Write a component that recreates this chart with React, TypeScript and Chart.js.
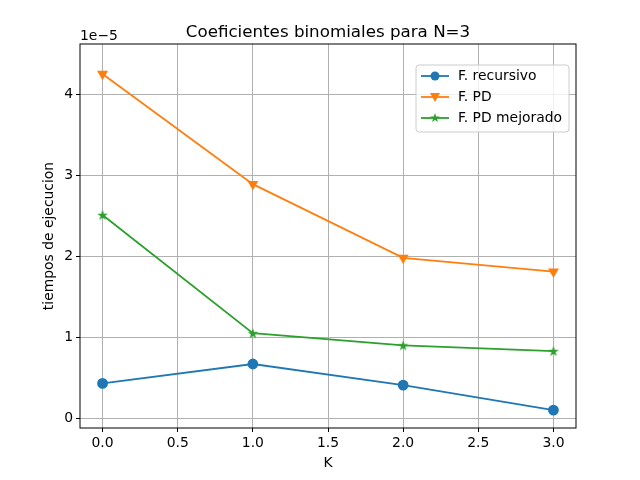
import { useEffect, useRef } from 'react';
import { Chart, registerables } from 'chart.js';

Chart.register(...registerables);

const K = [0, 1, 2, 3];
const recursivo = [0.43, 0.67, 0.41, 0.1];
const pd = [4.25, 2.89, 1.98, 1.81];
const pdMejorado = [2.51, 1.05, 0.9, 0.83];
const names = ['F. recursivo', 'F. PD', 'F. PD mejorado'];
const colors = ['#1f77b4', '#ff7f0e', '#2ca02c'];
const styles: any[] = ['circle', 'triangle', 'star'];

const FONT = '"DejaVu Sans", sans-serif';

const overlay = {
  id: 'overlay',
  afterDraw(chart: any) {
    const { ctx, chartArea: a } = chart;
    ctx.save();
    ctx.fillStyle = '#000';
    ctx.font = `16.7px ${FONT}`;
    ctx.textAlign = 'center';
    ctx.textBaseline = 'alphabetic';
    ctx.fillText('Coeficientes binomiales para N=3', (a.left + a.right) / 2, a.top - 7);
    ctx.font = `13.9px ${FONT}`;
    ctx.fillText('K', (a.left + a.right) / 2, 467);
    ctx.save();
    ctx.translate(53, (a.top + a.bottom) / 2);
    ctx.rotate(-Math.PI / 2);
    ctx.fillText('tiempos de ejecucion', 0, 0);
    ctx.restore();
    ctx.textAlign = 'left';
    ctx.fillText('1e\u22125', a.left, a.top - 4);
    ctx.strokeStyle = '#000';
    ctx.lineWidth = 1;
    ctx.strokeRect(a.left, a.top, a.right - a.left, a.bottom - a.top);
    // legend
    const lx = 416, ly = 65, lw = 153, lh = 67;
    ctx.fillStyle = 'rgba(255,255,255,0.8)';
    ctx.strokeStyle = '#cccccc';
    ctx.beginPath();
    ctx.roundRect(lx, ly, lw, lh, 3);
    ctx.fill();
    ctx.stroke();
    names.forEach((n, i) => {
      const y = 76 + i * 21;
      ctx.strokeStyle = colors[i];
      ctx.lineWidth = 1.8;
      ctx.beginPath();
      ctx.moveTo(421, y);
      ctx.lineTo(449, y);
      ctx.stroke();
      ctx.fillStyle = colors[i];
      if (i === 0) {
        ctx.beginPath();
        ctx.arc(435, y, 4.5, 0, Math.PI * 2);
        ctx.fill();
      } else if (i === 1) {
        ctx.beginPath();
        ctx.moveTo(430, y - 4);
        ctx.lineTo(440, y - 4);
        ctx.lineTo(435, y + 5);
        ctx.closePath();
        ctx.fill();
      } else {
        drawStar(ctx, 435, y, 5);
      }
      ctx.fillStyle = '#000';
      ctx.textBaseline = 'middle';
      ctx.fillText(n, 458, y);
    });
    ctx.restore();
  },
};

function drawStar(ctx: CanvasRenderingContext2D, x: number, y: number, r: number) {
  ctx.beginPath();
  for (let j = 0; j < 10; j++) {
    const rr = j % 2 === 0 ? r : r * 0.4;
    const ang = -Math.PI / 2 + (j * Math.PI) / 5;
    const px = x + rr * Math.cos(ang);
    const py = y + rr * Math.sin(ang);
    if (j === 0) ctx.moveTo(px, py);
    else ctx.lineTo(px, py);
  }
  ctx.closePath();
  ctx.fill();
}

function starImage(color: string) {
  const c = document.createElement('canvas');
  c.width = 12;
  c.height = 12;
  const cx = c.getContext('2d')!;
  cx.fillStyle = color;
  drawStar(cx, 6, 6.5, 5.5);
  return c;
}

export default function App() {
  const canvasRef = useRef<HTMLCanvasElement>(null);

  useEffect(() => {
    if (!canvasRef.current) return;
    const series = [recursivo, pd, pdMejorado];
    const chart = new Chart(canvasRef.current, {
      type: 'line',
      data: {
        datasets: series.map((s, i) => ({
          label: names[i],
          data: K.map((k, j) => ({ x: k, y: s[j] })),
          borderColor: colors[i],
          backgroundColor: colors[i],
          borderWidth: 1.8,
          pointStyle: i === 2 ? (starImage(colors[i]) as any) : styles[i],
          pointRotation: i === 1 ? 180 : 0,
          pointRadius: 4.5,
          tension: 0,
        })),
      },
      options: {
        responsive: false,
        animation: false,
        layout: { padding: { top: 44, right: 64, left: 0, bottom: 0 } },
        plugins: { legend: { display: false }, title: { display: false }, tooltip: { enabled: false } },
        scales: {
          x: {
            type: 'linear',
            min: -0.15,
            max: 3.15,
            afterBuildTicks: (s: any) => { s.ticks = [0, 0.5, 1, 1.5, 2, 2.5, 3].map((v) => ({ value: v })); },
            afterFit: (s: any) => { s.height = 52; },
            grid: { color: '#b0b0b0', tickColor: '#000', tickLength: 4, drawTicks: true },
            border: { display: false },
            ticks: { color: '#000', font: { family: FONT, size: 13.9 }, padding: 3, maxRotation: 0, callback: (v: any) => Number(v).toFixed(1) },
          },
          y: {
            type: 'linear',
            min: -0.12,
            max: 4.62,
            afterBuildTicks: (s: any) => { s.ticks = [0, 1, 2, 3, 4].map((v) => ({ value: v })); },
            afterFit: (s: any) => { s.width = 80; },
            grid: { color: '#b0b0b0', tickColor: '#000', tickLength: 4 },
            border: { display: false },
            ticks: { color: '#000', font: { family: FONT, size: 13.9 }, padding: 3, callback: (v: any) => String(v) },
          },
        },
      },
      plugins: [overlay],
    });
    return () => chart.destroy();
  }, []);

  return (
    <div style={{ position: 'fixed', left: 0, top: 0, width: 640, height: 480, background: '#fff' }}>
      <canvas ref={canvasRef} width={640} height={480} style={{ width: 640, height: 480 }} />
    </div>
  );
}
